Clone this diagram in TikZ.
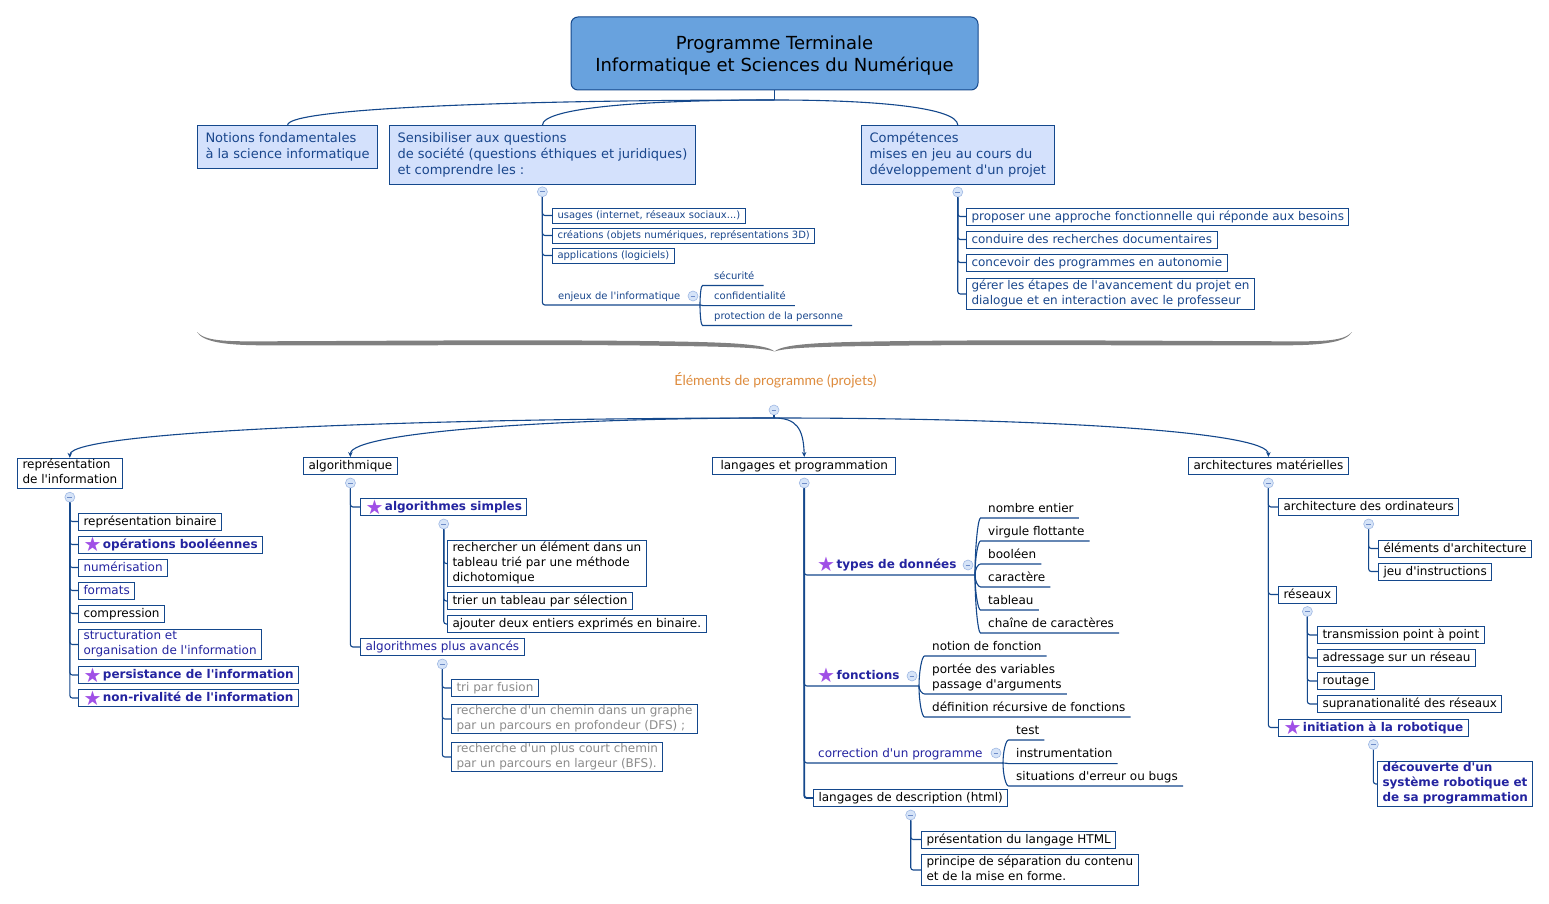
\documentclass[tikz,border=0pt]{standalone}
\usepackage{fontspec}
\setmainfont{DejaVu Sans}[Ligatures=TeXOff]
\newfontfamily\handfont{Lato}
\usetikzlibrary{arrows.meta}

% palette
\definecolor{lc}{RGB}{20,72,140}
\definecolor{navy}{RGB}{25,70,140}
\definecolor{indigo}{RGB}{36,36,160}
\definecolor{greytxt}{RGB}{140,140,140}
\definecolor{titlefill}{RGB}{104,162,222}
\definecolor{lightfill}{RGB}{212,225,252}
\definecolor{starc}{RGB}{160,80,230}
\definecolor{orangetxt}{RGB}{222,140,62}
\definecolor{bracec}{RGB}{128,128,128}
\definecolor{collfill}{RGB}{214,228,248}
\definecolor{collbord}{RGB}{160,185,228}
\definecolor{collminus}{RGB}{110,140,200}

% font sizes
\newcommand{\fsTitle}{\fontsize{18}{22}\selectfont}
\newcommand{\fsMain}{\fontsize{13}{16}\selectfont}
\newcommand{\fsItem}{\fontsize{12}{15}\selectfont}
\newcommand{\fsSmall}{\fontsize{10}{12}\selectfont}
\newcommand{\staricon}{\raisebox{-3.6pt}{\smash{\normalfont\fontsize{20}{20}\selectfont\color{starc}★}}\hspace{1.5pt}}

% struts that move the text block down by \tshift inside its frame
\def\tshift{0pt}
\newcommand{\topstrut}{\rule{0pt}{\dimexpr.7\baselineskip+\tshift\relax}}
\newcommand{\botstrut}{\rule[\dimexpr-.3\baselineskip+\tshift\relax]{0pt}{\dimexpr.3\baselineskip-\tshift\relax}}

\tikzset{
  tshift/.code={\def\tshift{#1}},
  conn/.style={draw=lc, line width=1.1pt, rounded corners=2.5pt},
  mainarrow/.style={conn, -{Stealth[length=5pt,width=4.5pt]}},
  nodebase/.style={align=left, execute at begin node=\topstrut, execute at end node=\botstrut},
  titlebox/.style={draw=lc, line width=1pt, fill=titlefill, rounded corners=7pt,
    minimum width=407pt, minimum height=73pt},
  topic/.style={nodebase, tshift=2.5pt, draw=lc, line width=1pt, fill=lightfill, anchor=west,
    inner xsep=8pt, inner ysep=7pt, font=\fsMain, text=navy},
  box/.style={nodebase, tshift=0.7pt, draw=lc, line width=1pt, fill=white, anchor=west,
    inner xsep=5pt, inner ysep=1pt, font=\fsItem},
  sbox/.style={box, font=\fsSmall, text=navy, inner ysep=1.5pt},
  ul/.style={nodebase, tshift=1.8pt, anchor=south west, inner xsep=5pt, inner ysep=3pt, font=\fsItem},
  sul/.style={ul, tshift=1pt, font=\fsSmall, text=navy},
  ind/.style={text=indigo},
  strong/.style={text=indigo, font=\fsItem\bfseries},
  faded/.style={text=greytxt},
  coll/.style={circle, draw=collbord, fill=collfill, line width=0.6pt,
    minimum size=10pt, inner sep=0pt,
    path picture={\draw[collminus, line width=0.8pt]
      (path picture bounding box.center) ++(-2.4pt,0pt) -- ++(4.8pt,0pt);}},
}

\begin{document}
\begin{tikzpicture}[x=1pt,y=-1pt]
\useasboundingbox (0,0) rectangle (1549,904);
\fill[white] (0,0) rectangle (1549,904);

% ---------- upper part ----------
\node[titlebox] (ttl) at (774.5,53.5) {};
\node[font=\fsTitle, align=center] (ttltxt) at (774.5,55.5) {Programme Terminale\\Informatique et Sciences du Numérique};
\node[topic] (notions) at (197,147) {Notions fondamentales\\à la science informatique};
\node[topic] (sens) at (389,155) {Sensibiliser aux questions\\de société (questions éthiques et juridiques)\\et comprendre les :};
\node[topic] (comp) at (861,155) {Compétences\\mises en jeu au cours du\\développement d'un projet};

\coordinate (thub) at (774.5,100);
\draw[conn] (ttl.south) -- (thub);
\draw[conn] (thub) .. controls (520,100) and (286.5,108) .. (notions.north);
\draw[conn] (thub) .. controls (640,100) and (542.5,108) .. (sens.north);
\draw[conn] (thub) .. controls (880,100) and (957,108) .. (comp.north);

% questions de société
\node[coll] (sensc) at ([yshift=-7pt]sens.south) {};
\node[sbox] (usg) at (552,215.5) {usages (internet, réseaux sociaux...)};
\node[sbox] (cre) at (552,235.5) {créations (objets numériques, représentations 3D)};
\node[sbox] (app) at (552,255.5) {applications (logiciels)};
\node[sul] (enj) at (553,305) {enjeux de l'informatique};
\coordinate (enjf) at (700,305);
\node[sul, inner xsep=9pt] (secu) at (705,285.5) {sécurité};
\node[sul, inner xsep=9pt] (conf) at (705,305.6) {confidentialité};
\node[sul, inner xsep=9pt] (prot) at (705,325.5) {protection de la personne};

\draw[conn] (sensc.south) |- (usg.west);
\draw[conn] (sensc.south) |- (cre.west);
\draw[conn] (sensc.south) |- (app.west);
\draw[conn] (sensc.south) |- (enjf);
\draw[conn] (enjf) .. controls +(0,-10) and +(-4,0) .. (secu.south west) -- (secu.south east);
\draw[conn] (enjf) .. controls +(2,0) and +(-2,0) .. (conf.south west) -- (conf.south east);
\draw[conn] (enjf) .. controls +(0,10) and +(-4,0) .. (prot.south west) -- (prot.south east);
\node[coll] (enjc) at (693,296) {};

% compétences
\node[coll] (compc) at ([yshift=-7pt]comp.south) {};
\node[box, text=navy] (c1) at (966,216.5) {proposer une approche fonctionnelle qui réponde aux besoins};
\node[box, text=navy] (c2) at (966,239.5) {conduire des recherches documentaires};
\node[box, text=navy] (c3) at (966,262.5) {concevoir des programmes en autonomie};
\node[box, text=navy] (c4) at (966,294) {gérer les étapes de l'avancement du projet en\\dialogue et en interaction avec le professeur};
\draw[conn] (compc.south) |- (c1.west);
\draw[conn] (compc.south) |- (c2.west);
\draw[conn] (compc.south) |- (c3.west);
\draw[conn] (compc.south) |- (c4.west);

% ---------- brace ----------
\fill[bracec]
  (197,332) .. controls (205,341) and (225,341.5) .. (260,341.3)
  .. controls (380,341) and (520,339.5) .. (640,341)
  .. controls (720,342) and (765,343) .. (774.5,351.5)
  .. controls (784,343) and (829,342) .. (909,341)
  .. controls (1029,339.5) and (1169,341) .. (1289,341.3)
  .. controls (1324,341.5) and (1344,341) .. (1352,332)
  .. controls (1346,342) and (1324,345) .. (1289,345.3)
  .. controls (1169,346) and (1029,344.3) .. (909,345.5)
  .. controls (829,346.5) and (787,347) .. (774.5,351.5)
  .. controls (762,347) and (720,346.5) .. (640,345.5)
  .. controls (520,344.3) and (380,346) .. (260,345.3)
  .. controls (225,345) and (203,342) .. (197,332) -- cycle;

% ---------- lower part ----------
\node[font=\handfont\fontsize{14}{16}\selectfont, text=orangetxt] (elem) at (775.5,380) {Éléments de programme (projets)};
\node[coll] (elemc) at (774,410) {};
\coordinate (hub) at (774,418);

\node[box] (rep) at (17,473.5) {représentation\\de l'information};
\node[box] (algo) at (303,466) {algorithmique};
\node[box, inner xsep=8pt] (lang) at (712,466) {langages et programmation};
\node[box] (arch) at (1188,466) {architectures matérielles};

\draw[conn] (elemc.south) -- (hub);
\draw[mainarrow] (hub) .. controls (450,418) and (69.5,430) .. (rep.north);
\draw[mainarrow] (hub) .. controls (560,418) and (350,432) .. (algo.north);
\draw[mainarrow] (hub) .. controls (796,418) and (803.5,428) .. (lang.north);
\draw[mainarrow] (hub) .. controls (1050,418) and (1268.5,432) .. (arch.north);

% représentation de l'information
\node[coll] (repc) at ([yshift=-8pt]rep.south) {};
\node[box] (rb) at (78,521.5) {représentation binaire};
\node[box, strong] (ob) at (78,544.5) {\staricon opérations booléennes};
\node[box, ind] (num) at (78,567.5) {numérisation};
\node[box, ind] (fmt) at (78,590.5) {formats};
\node[box] (cmp) at (78,613.5) {compression};
\node[box, ind] (stru) at (78,644.5) {structuration et\\organisation de l'information};
\node[box, strong] (pers) at (78,675) {\staricon persistance de l'information};
\node[box, strong] (nriv) at (78,698) {\staricon non-rivalité de l'information};
\foreach \n in {rb,ob,num,fmt,cmp,stru,pers,nriv}
  \draw[conn] (repc.south) |- (\n.west);

% algorithmique
\node[coll] (algoc) at ([yshift=-8pt]algo.south) {};
\node[box, strong] (asim) at (360,507) {\staricon algorithmes simples};
\node[coll] (asimc) at ([yshift=-8pt]asim.south) {};
\node[box] (rech) at (447,563.5) {rechercher un élément dans un\\tableau trié par une méthode\\dichotomique};
\node[box] (tsel) at (447,601) {trier un tableau par sélection};
\node[box] (ajb) at (447,624) {ajouter deux entiers exprimés en binaire.};
\node[box, ind] (aav) at (360,647) {algorithmes plus avancés};
\node[coll] (aavc) at ([yshift=-8pt]aav.south) {};
\node[box, faded] (fus) at (451,688) {tri par fusion};
\node[box, faded] (dfs) at (451,719) {recherche d'un chemin dans un graphe\\par un parcours en profondeur (DFS) ;};
\node[box, faded] (bfs) at (451,757) {recherche d'un plus court chemin\\par un parcours en largeur (BFS).};
\draw[conn] (algoc.south) |- (asim.west);
\draw[conn] (algoc.south) |- (aav.west);
\foreach \n in {rech,tsel,ajb}
  \draw[conn] (asimc.south) |- (\n.west);
\foreach \n in {fus,dfs,bfs}
  \draw[conn] (aavc.south) |- (\n.west);

% langages et programmation
\node[coll] (langc) at ([yshift=-8pt]lang.south) {};
\node[ul, strong, inner xsep=0pt] (typ) at (817,575) {\staricon types de données};
\coordinate (typf) at (975,575);
\node[ul] (ne) at (983,518) {nombre entier};
\node[ul] (vf) at (983,541) {virgule flottante};
\node[ul] (bo) at (983,564) {booléen};
\node[ul] (ca) at (983,587) {caractère};
\node[ul] (ta) at (983,610) {tableau};
\node[ul] (ch) at (983,633) {chaîne de caractères};

\node[ul, strong, inner xsep=0pt] (fon) at (817,686) {\staricon fonctions};
\coordinate (fonf) at (919,686);
\node[ul] (nf) at (927,656) {notion de fonction};
\node[ul] (pv) at (927,694) {portée des variables\\passage d'arguments};
\node[ul] (dr) at (927,717) {définition récursive de fonctions};

\node[ul, ind, inner xsep=0pt] (cor) at (818,763) {correction d'un programme};
\coordinate (corf) at (1003,763);
\node[ul] (tst) at (1011,740) {test};
\node[ul] (ins) at (1011,763.6) {instrumentation};
\node[ul] (sit) at (1011,786) {situations d'erreur ou bugs};

\node[box] (html) at (813,798) {langages de description (html)};
\node[coll] (htmlc) at ([yshift=-8pt]html.south) {};
\node[box] (ph) at (921,839.5) {présentation du langage HTML};
\node[box] (ps) at (921,870) {principe de séparation du contenu\\et de la mise en forme.};

\draw[conn, line width=1.8pt] (langc.south) |- (html.west);
\draw[conn] (langc.south) |- (typf);
\draw[conn] (langc.south) |- (fonf);
\draw[conn] (langc.south) |- (corf);

\draw[conn] (typf) .. controls +(0,-28) and +(-5,0) .. (ne.south west) -- (ne.south east);
\draw[conn] (typf) .. controls +(0,-17) and +(-5,0) .. (vf.south west) -- (vf.south east);
\draw[conn] (typf) .. controls +(0,-6) and +(-5,0) .. (bo.south west) -- (bo.south east);
\draw[conn] (typf) .. controls +(0,6) and +(-5,0) .. (ca.south west) -- (ca.south east);
\draw[conn] (typf) .. controls +(0,17) and +(-5,0) .. (ta.south west) -- (ta.south east);
\draw[conn] (typf) .. controls +(0,29) and +(-5,0) .. (ch.south west) -- (ch.south east);
\node[coll] (typc) at (968,565) {};

\draw[conn] (fonf) .. controls +(0,-15) and +(-5,0) .. (nf.south west) -- (nf.south east);
\draw[conn] (fonf) .. controls +(0,4) and +(-5,0) .. (pv.south west) -- (pv.south east);
\draw[conn] (fonf) .. controls +(0,16) and +(-5,0) .. (dr.south west) -- (dr.south east);
\node[coll] (fonc) at (912,676) {};

\draw[conn] (corf) .. controls +(0,-12) and +(-5,0) .. (tst.south west) -- (tst.south east);
\draw[conn] (corf) .. controls +(3,0) and +(-3,0) .. (ins.south west) -- (ins.south east);
\draw[conn] (corf) .. controls +(0,12) and +(-5,0) .. (sit.south west) -- (sit.south east);
\node[coll] (corc) at (996,753) {};

\draw[conn] (htmlc.south) |- (ph.west);
\draw[conn] (htmlc.south) |- (ps.west);

% architectures matérielles
\node[coll] (archc) at ([yshift=-8pt]arch.south) {};
\node[box] (ao) at (1278,507) {architecture des ordinateurs};
\node[coll] (aoc) at ([yshift=-8pt]ao.south) {};
\node[box] (ea) at (1378,548.5) {éléments d'architecture};
\node[box] (ji) at (1378,571.5) {jeu d'instructions};
\node[box] (res) at (1278,594.5) {réseaux};
\node[coll] (resc) at ([yshift=-8pt]res.south) {};
\node[box] (tp) at (1317,635) {transmission point à point};
\node[box] (ad) at (1317,658) {adressage sur un réseau};
\node[box] (ro) at (1317,681) {routage};
\node[box] (su) at (1317,704) {supranationalité des réseaux};
\node[box, strong] (rob) at (1278,727.5) {\staricon initiation à la robotique};
\node[coll] (robc) at ([yshift=-8pt]rob.south) {};
\node[box, strong] (dec) at (1377,784) {découverte d'un\\système robotique et\\de sa programmation};

\foreach \n in {ao,res,rob}
  \draw[conn] (archc.south) |- (\n.west);
\foreach \n in {ea,ji}
  \draw[conn] (aoc.south) |- (\n.west);
\foreach \n in {tp,ad,ro,su}
  \draw[conn] (resc.south) |- (\n.west);
\draw[conn] (robc.south) |- (dec.west);

\end{tikzpicture}
\end{document}
